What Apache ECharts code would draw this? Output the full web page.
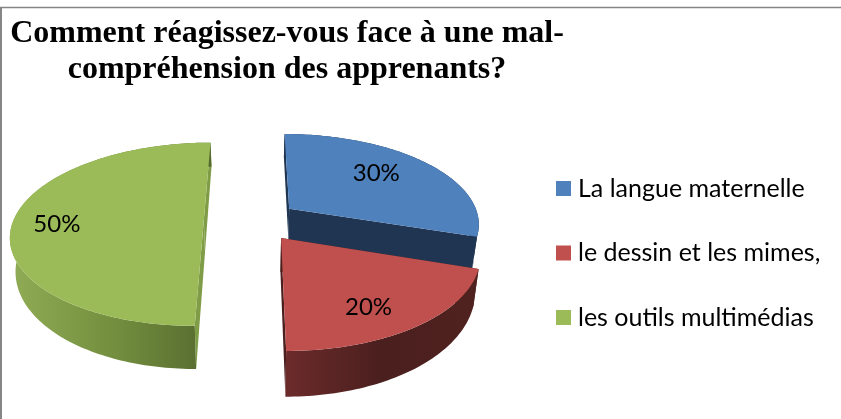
<!DOCTYPE html>
<html><head><meta charset="utf-8">
<style>html,body{margin:0;padding:0;background:#fff}#c{width:841px;height:419px}</style>
<script src="https://cdn.jsdelivr.net/npm/echarts@6/dist/echarts.min.js"></script>
</head><body><div id="c"></div>
<script>
const titleLines = ['Comment réagissez-vous face à une mal-', 'compréhension des apprenants?'];
const categories = ['La langue maternelle', 'le dessin et les mimes,', 'les outils multimédias'];
const values = [30, 20, 50];
const topColors = ['#4f81bd', '#c0504d', '#9bbb59'];
const cutColors = ['#1f3552', '#4a1f1e', '#7f9c47'];
const wallStops = [['#1f3552', '#1f3552'], ['#6c2b2b', '#4a1f1e', '#50221f'], ['#90ac55', '#74903f', '#566a2e']];

// perspective camera (pie radius = 1 in world units)
const cam = {vx: 254, hy: -364, e: 3815, d: 6.51, a: 1243, hyB: -393, eB: 4214, aB: 1214};
const explode = [[0.1886, -0.15], [0.138, 0.174], [-0.2636, -0.02]];
const labelAt = [[0.51, -0.44], [0.386, 0.65], [-0.765, 0.045]];
const total = values.reduce((a, b) => a + b, 0);

function topPt(X, Y) { const d = cam.d - Y; return [cam.vx + cam.a * X / d, cam.hy + cam.e / d]; }
function botPt(X, Y) { const d = cam.d - Y; return [cam.vx + cam.aB * X / d, cam.hyB + cam.eB / d]; }
function rim(o, t) { return [o[0] + Math.sin(t), o[1] - Math.cos(t)]; }

function sliceRender(i) {
  return function () {
    const before = values.slice(0, i).reduce((a, b) => a + b, 0);
    const t0 = before / total * 2 * Math.PI, t1 = (before + values[i]) / total * 2 * Math.PI;
    const o = explode[i], arc = [], n = Math.ceil((t1 - t0) / 0.02);
    for (let k = 0; k <= n; k++) arc.push(rim(o, t0 + (t1 - t0) * k / n));
    const tA = arc.map(p => topPt(p[0], p[1])), bA = arc.map(p => botPt(p[0], p[1]));
    const tO = topPt(o[0], o[1]), bO = botPt(o[0], o[1]);
    const xs = bA.concat(tA).map(p => p[0]);
    const stops = wallStops[i];
    const grad = {type: 'linear', global: true, x: Math.min.apply(null, xs), y: 0, x2: Math.max.apply(null, xs), y2: 0,
      colorStops: stops.map((c, k) => ({offset: k / (stops.length - 1), color: c}))};
    const poly = (pts, fill) => ({type: 'polygon', shape: {points: pts}, style: {fill: fill, stroke: null}});
    const tl = topPt(o[0] + labelAt[i][0], o[1] + labelAt[i][1]);
    return {type: 'group', children: [
      poly([tA[0], tO, bO, bA[0]], cutColors[i]),
      poly([tA[n], tO, bO, bA[n]], cutColors[i]),
      poly(tA.concat(bA.slice().reverse()), grad),
      poly([tO].concat(tA), topColors[i]),
      {type: 'text', style: {text: Math.round(values[i] / total * 100) + '%', x: tl[0], y: tl[1], align: 'center', verticalAlign: 'middle',
        textAlign: 'center', textVerticalAlign: 'middle', font: '24px Lato', fill: '#000'}}
    ]};
  };
}

const chart = echarts.init(document.getElementById('c'), null, {renderer: 'canvas'});
chart.setOption({
  animation: false,
  backgroundColor: '#fff',
  title: {
    text: titleLines.join('\n'), left: 282, top: 11, textAlign: 'center',
    textStyle: {fontFamily: 'Liberation Serif', fontWeight: 'bold', fontSize: 32, lineHeight: 36, color: '#000'}
  },
  legend: {
    orient: 'vertical', left: 551, top: 171, icon: 'rect', itemWidth: 15, itemHeight: 15, itemGap: 39.5,
    data: categories, selectedMode: false,
    textStyle: {fontFamily: 'Lato', fontSize: 25, color: '#000', padding: [0, 0, 0, 2]}
  },
  graphic: [
    {type: 'line', shape: {x1: 0, y1: 7.5, x2: 841, y2: 7.5}, style: {stroke: '#868686', lineWidth: 1.5}},
    {type: 'line', shape: {x1: 1, y1: 7, x2: 1, y2: 419}, style: {stroke: '#868686', lineWidth: 2}}
  ],
  series: categories.map((name, i) => ({
    type: 'custom', name: name, coordinateSystem: 'none', data: [values[i]],
    itemStyle: {color: topColors[i]}, renderItem: sliceRender(i), silent: true
  }))
});
</script></body></html>
